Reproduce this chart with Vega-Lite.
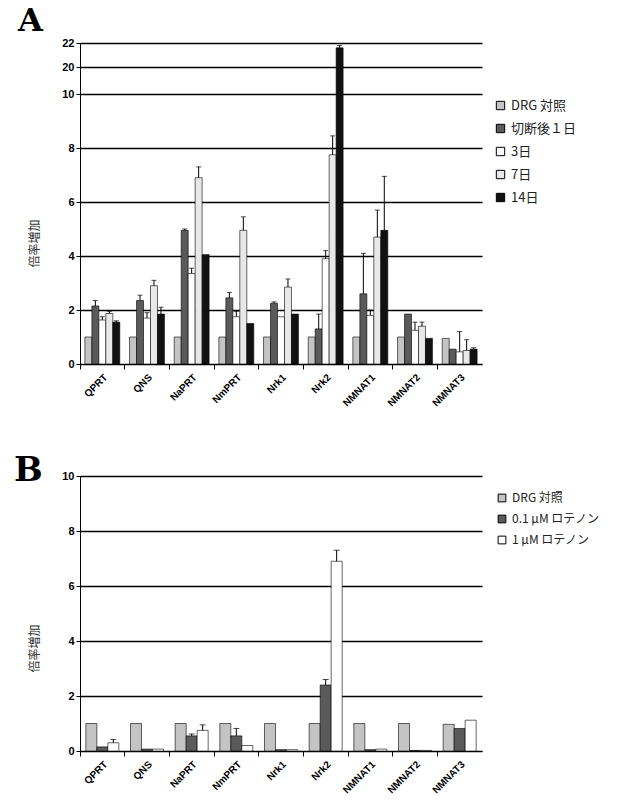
{
  "$schema": "https://vega.github.io/schema/vega-lite/v6.json",
  "background": "white",
  "padding": {"left": 14, "top": 5, "right": 5, "bottom": 5},
  "spacing": 45,
  "config": {
    "view": {"stroke": null},
    "font": "Liberation Sans",
    "axis": {"domainColor": "black", "tickColor": "black", "labelColor": "black", "labelFont": "Liberation Sans"},
    "legend": {"labelFont": "Noto Sans CJK JP", "labelColor": "#222"}
  },
  "resolve": {"scale": {"fill": "independent", "y": "independent", "x": "independent", "xOffset": "independent"}, "legend": {"fill": "independent"}},
  "vconcat": [
    {
      "title": {"text": "A", "anchor": "start", "frame": "group", "font": "DejaVu Serif", "fontSize": 32, "fontWeight": "bold", "dx": -62, "offset": -1},
      "width": 402,
      "height": 321,
      "data": {"values": [
        {"gene": "QPRT", "series": "DRG 対照", "value": 1.0},
        {"gene": "QPRT", "series": "切断後１日", "value": 2.15, "err": 2.35},
        {"gene": "QPRT", "series": "3日", "value": 1.63, "err": 1.75},
        {"gene": "QPRT", "series": "7日", "value": 1.87, "err": 1.95},
        {"gene": "QPRT", "series": "14日", "value": 1.55, "err": 1.6},
        {"gene": "QNS", "series": "DRG 対照", "value": 1.0},
        {"gene": "QNS", "series": "切断後１日", "value": 2.35, "err": 2.55},
        {"gene": "QNS", "series": "3日", "value": 1.7, "err": 1.9},
        {"gene": "QNS", "series": "7日", "value": 2.9, "err": 3.1},
        {"gene": "QNS", "series": "14日", "value": 1.85, "err": 2.1},
        {"gene": "NaPRT", "series": "DRG 対照", "value": 1.0},
        {"gene": "NaPRT", "series": "切断後１日", "value": 4.95, "err": 5.0},
        {"gene": "NaPRT", "series": "3日", "value": 3.35, "err": 3.55},
        {"gene": "NaPRT", "series": "7日", "value": 6.9, "err": 7.3},
        {"gene": "NaPRT", "series": "14日", "value": 4.05},
        {"gene": "NmPRT", "series": "DRG 対照", "value": 1.0},
        {"gene": "NmPRT", "series": "切断後１日", "value": 2.45, "err": 2.65},
        {"gene": "NmPRT", "series": "3日", "value": 1.75, "err": 1.95},
        {"gene": "NmPRT", "series": "7日", "value": 4.95, "err": 5.45},
        {"gene": "NmPRT", "series": "14日", "value": 1.5},
        {"gene": "Nrk1", "series": "DRG 対照", "value": 1.0},
        {"gene": "Nrk1", "series": "切断後１日", "value": 2.25, "err": 2.3},
        {"gene": "Nrk1", "series": "3日", "value": 1.75},
        {"gene": "Nrk1", "series": "7日", "value": 2.85, "err": 3.15},
        {"gene": "Nrk1", "series": "14日", "value": 1.85},
        {"gene": "Nrk2", "series": "DRG 対照", "value": 1.0},
        {"gene": "Nrk2", "series": "切断後１日", "value": 1.3, "err": 1.85},
        {"gene": "Nrk2", "series": "3日", "value": 3.9, "err": 4.2},
        {"gene": "Nrk2", "series": "7日", "value": 7.75, "err": 8.45},
        {"gene": "Nrk2", "series": "14日", "value": 21.6, "err": 21.8},
        {"gene": "NMNAT1", "series": "DRG 対照", "value": 1.0},
        {"gene": "NMNAT1", "series": "切断後１日", "value": 2.6, "err": 4.1},
        {"gene": "NMNAT1", "series": "3日", "value": 1.8, "err": 2.0},
        {"gene": "NMNAT1", "series": "7日", "value": 4.7, "err": 5.7},
        {"gene": "NMNAT1", "series": "14日", "value": 4.95, "err": 6.95},
        {"gene": "NMNAT2", "series": "DRG 対照", "value": 1.0},
        {"gene": "NMNAT2", "series": "切断後１日", "value": 1.85},
        {"gene": "NMNAT2", "series": "3日", "value": 1.25, "err": 1.55},
        {"gene": "NMNAT2", "series": "7日", "value": 1.4, "err": 1.55},
        {"gene": "NMNAT2", "series": "14日", "value": 0.95},
        {"gene": "NMNAT3", "series": "DRG 対照", "value": 0.95},
        {"gene": "NMNAT3", "series": "切断後１日", "value": 0.55},
        {"gene": "NMNAT3", "series": "3日", "value": 0.45, "err": 1.2},
        {"gene": "NMNAT3", "series": "7日", "value": 0.5, "err": 0.9},
        {"gene": "NMNAT3", "series": "14日", "value": 0.55, "err": 0.6}
      ]},
      "encoding": {
        "x": {"field": "gene", "type": "nominal", "sort": ["QPRT", "QNS", "NaPRT", "NmPRT", "Nrk1", "Nrk2", "NMNAT1", "NMNAT2", "NMNAT3"],
          "scale": {"paddingInner": 0, "paddingOuter": 0},
          "axis": {"title": null, "labelAngle": -45, "labelFontSize": 10, "labelFontWeight": "bold", "bandPosition": 0, "tickSize": 5, "grid": false, "labelPadding": 3}},
        "xOffset": {"field": "series", "type": "nominal", "sort": ["DRG 対照", "切断後１日", "3日", "7日", "14日"], "scale": {"paddingOuter": 0.7, "paddingInner": 0}},
        "y": {"field": "value", "type": "quantitative",
          "scale": {"domain": [0, 10, 20, 22], "range": [321, 51, 24, 0], "nice": false, "zero": false},
          "axis": {"title": "倍率増加", "titleFont": "Noto Sans CJK JP", "titleFontSize": 12, "titleFontWeight": "normal", "titleColor": "#333", "titleY": 200, "titlePadding": 20,
            "values": [0, 2, 4, 6, 8, 10, 20, 22], "grid": true, "gridColor": "black", "gridWidth": 1.5, "tickSize": 4, "labelFontSize": 11, "labelFontWeight": "bold"}}
      },
      "layer": [
        {"mark": {"type": "bar", "stroke": "black", "strokeWidth": 0.6},
         "encoding": {"fill": {"field": "series", "type": "nominal", "sort": ["DRG 対照", "切断後１日", "3日", "7日", "14日"],
           "scale": {"range": ["#c4c4c4", "#5a5a5a", "#ffffff", "#e8e8e8", "#111111"]},
           "legend": {"title": null, "orient": "none", "legendX": 414, "legendY": 56, "symbolType": "square", "symbolSize": 70, "symbolStrokeColor": "black", "symbolStrokeWidth": 1, "labelFontSize": 13, "rowPadding": 9}}}},
        {"transform": [{"filter": "datum.err != null"}], "mark": {"type": "rule", "color": "black", "strokeWidth": 1},
         "encoding": {"y2": {"field": "err"}}},
        {"transform": [{"filter": "datum.err != null"}], "mark": {"type": "tick", "color": "black", "thickness": 1, "size": 5},
         "encoding": {"y": {"field": "err", "type": "quantitative"}}}
      ]
    },
    {
      "title": {"text": "B", "anchor": "start", "frame": "group", "font": "DejaVu Serif", "fontSize": 34, "fontWeight": "bold", "dx": -66, "offset": -18},
      "width": 402,
      "height": 275,
      "data": {"values": [
        {"gene": "QPRT", "treatment": "DRG 対照", "value": 1.0},
        {"gene": "QPRT", "treatment": "0.1 μM ロテノン", "value": 0.15},
        {"gene": "QPRT", "treatment": "1 μM ロテノン", "value": 0.3, "err": 0.42},
        {"gene": "QNS", "treatment": "DRG 対照", "value": 1.0},
        {"gene": "QNS", "treatment": "0.1 μM ロテノン", "value": 0.07},
        {"gene": "QNS", "treatment": "1 μM ロテノン", "value": 0.07},
        {"gene": "NaPRT", "treatment": "DRG 対照", "value": 1.0},
        {"gene": "NaPRT", "treatment": "0.1 μM ロテノン", "value": 0.55, "err": 0.62},
        {"gene": "NaPRT", "treatment": "1 μM ロテノン", "value": 0.75, "err": 0.95},
        {"gene": "NmPRT", "treatment": "DRG 対照", "value": 1.0},
        {"gene": "NmPRT", "treatment": "0.1 μM ロテノン", "value": 0.55, "err": 0.82},
        {"gene": "NmPRT", "treatment": "1 μM ロテノン", "value": 0.2},
        {"gene": "Nrk1", "treatment": "DRG 対照", "value": 1.0},
        {"gene": "Nrk1", "treatment": "0.1 μM ロテノン", "value": 0.05},
        {"gene": "Nrk1", "treatment": "1 μM ロテノン", "value": 0.05},
        {"gene": "Nrk2", "treatment": "DRG 対照", "value": 1.0},
        {"gene": "Nrk2", "treatment": "0.1 μM ロテノン", "value": 2.4, "err": 2.6},
        {"gene": "Nrk2", "treatment": "1 μM ロテノン", "value": 6.9, "err": 7.3},
        {"gene": "NMNAT1", "treatment": "DRG 対照", "value": 1.0},
        {"gene": "NMNAT1", "treatment": "0.1 μM ロテノン", "value": 0.05},
        {"gene": "NMNAT1", "treatment": "1 μM ロテノン", "value": 0.07},
        {"gene": "NMNAT2", "treatment": "DRG 対照", "value": 1.0},
        {"gene": "NMNAT2", "treatment": "0.1 μM ロテノン", "value": 0.02},
        {"gene": "NMNAT2", "treatment": "1 μM ロテノン", "value": 0.02},
        {"gene": "NMNAT3", "treatment": "DRG 対照", "value": 0.97},
        {"gene": "NMNAT3", "treatment": "0.1 μM ロテノン", "value": 0.82},
        {"gene": "NMNAT3", "treatment": "1 μM ロテノン", "value": 1.12}
      ]},
      "encoding": {
        "x": {"field": "gene", "type": "nominal", "sort": ["QPRT", "QNS", "NaPRT", "NmPRT", "Nrk1", "Nrk2", "NMNAT1", "NMNAT2", "NMNAT3"],
          "scale": {"paddingInner": 0, "paddingOuter": 0},
          "axis": {"title": null, "labelAngle": -45, "labelFontSize": 10, "labelFontWeight": "bold", "bandPosition": 0, "tickSize": 5, "grid": false, "labelPadding": 3}},
        "xOffset": {"field": "treatment", "type": "nominal", "sort": ["DRG 対照", "0.1 μM ロテノン", "1 μM ロテノン"], "scale": {"paddingOuter": 0.53, "paddingInner": 0}},
        "y": {"field": "value", "type": "quantitative",
          "scale": {"domain": [0, 10], "nice": false},
          "axis": {"title": "倍率増加", "titleFont": "Noto Sans CJK JP", "titleFontSize": 12, "titleFontWeight": "normal", "titleColor": "#333", "titleY": 172, "titlePadding": 20,
            "values": [0, 2, 4, 6, 8, 10], "grid": true, "gridColor": "black", "gridWidth": 1.5, "tickSize": 4, "labelFontSize": 11, "labelFontWeight": "bold"}}
      },
      "layer": [
        {"mark": {"type": "bar", "stroke": "black", "strokeWidth": 0.6},
         "encoding": {"fill": {"field": "treatment", "type": "nominal", "sort": ["DRG 対照", "0.1 μM ロテノン", "1 μM ロテノン"],
           "scale": {"range": ["#c4c4c4", "#5a5a5a", "#ffffff"]},
           "legend": {"title": null, "orient": "none", "legendX": 416, "legendY": 16, "symbolType": "square", "symbolSize": 60, "symbolStrokeColor": "black", "symbolStrokeWidth": 1, "labelFontSize": 12, "rowPadding": 9}}}},
        {"transform": [{"filter": "datum.err != null"}], "mark": {"type": "rule", "color": "black", "strokeWidth": 1},
         "encoding": {"y2": {"field": "err"}}},
        {"transform": [{"filter": "datum.err != null"}], "mark": {"type": "tick", "color": "black", "thickness": 1, "size": 6},
         "encoding": {"y": {"field": "err", "type": "quantitative"}}}
      ]
    }
  ]
}
